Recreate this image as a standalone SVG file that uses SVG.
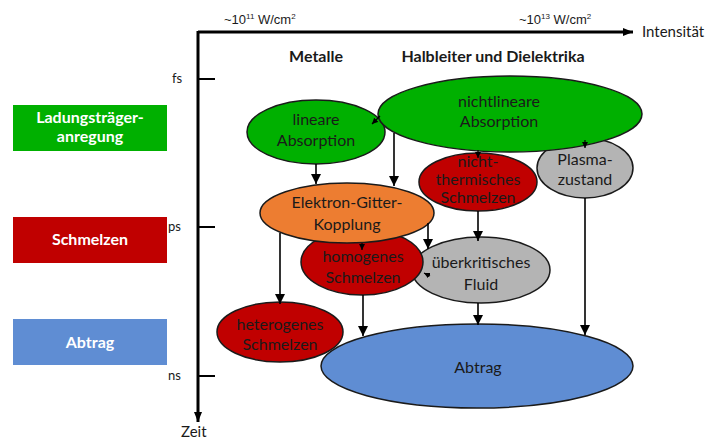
<svg xmlns="http://www.w3.org/2000/svg" width="728" height="441" viewBox="0 0 728 441">
<style>
.n{stroke:#1a1a1a;stroke-width:1.5}
.t{font-family:Lato,"Open Sans",sans-serif;font-size:16px;fill:#1a1a1a;text-anchor:middle}
.lb{font-family:Lato,"Open Sans",sans-serif;font-size:16px;font-weight:bold;fill:#fff;text-anchor:middle}
.ax{font-family:Lato,"Open Sans",sans-serif;font-size:15px;fill:#1a1a1a}
.w{font-family:"Liberation Sans",Arial,sans-serif;font-size:13px;fill:#1a1a1a}
.h{font-family:Lato,"Open Sans",sans-serif;font-size:16px;font-weight:bold;fill:#1a1a1a;text-anchor:middle}
.c{stroke:#000;stroke-width:1.6;fill:none;marker-end:url(#a)}
.cs{stroke:#000;stroke-width:1.2;fill:none;marker-end:url(#s)}
</style>
<defs>
<marker id="a" markerUnits="userSpaceOnUse" markerWidth="10" markerHeight="12" refX="10" refY="5" orient="auto"><path d="M0,0L10,5L0,10Z" fill="#000"/></marker>
<marker id="s" markerUnits="userSpaceOnUse" markerWidth="6" markerHeight="6" refX="6" refY="3" orient="auto"><path d="M0,0L6,3L0,6Z" fill="#000"/></marker>
<marker id="ax" markerUnits="userSpaceOnUse" markerWidth="10" markerHeight="10" refX="10" refY="4" orient="auto"><path d="M0,0L10,4L0,8Z" fill="#000"/></marker>
</defs>
<rect width="728" height="441" fill="#fff"/>
<g id="axes">
<path d="M198,32H633" stroke="#000" stroke-width="3" fill="none" marker-end="url(#ax)"/>
<path d="M198,31V422" stroke="#000" stroke-width="3" fill="none" marker-end="url(#ax)"/>
<path d="M198,79H215M198,227H215M198,376H215" stroke="#000" stroke-width="2"/>
<text class="ax" x="642" y="37">Intensität</text>
<text class="ax" x="181" y="437">Zeit</text>
<text class="ax" x="172" y="83" style="font-size:13px">fs</text>
<text class="ax" x="168" y="231" style="font-size:13px">ps</text>
<text class="ax" x="168" y="380" style="font-size:13px">ns</text>
<text class="w" x="224" y="24">~10<tspan font-size="8" dy="-5">11</tspan><tspan dy="5"> W/cm</tspan><tspan font-size="8" dy="-5">2</tspan></text>
<text class="w" x="519" y="24">~10<tspan font-size="8" dy="-5">13</tspan><tspan dy="5"> W/cm</tspan><tspan font-size="8" dy="-5">2</tspan></text>
<text class="h" x="316" y="62">Metalle</text>
<text class="h" x="493" y="62">Halbleiter und Dielektrika</text>
</g>
<g id="legend">
<g id="leg-ladung"><rect x="13" y="105" width="154" height="46" fill="#00b000"/><text class="lb" x="90" y="123">Ladungsträger-</text><text class="lb" x="90" y="142">anregung</text></g>
<g id="leg-schmelzen"><rect x="13" y="217" width="154" height="46" fill="#c00000"/><text class="lb" x="90" y="245">Schmelzen</text></g>
<g id="leg-abtrag"><rect x="13" y="319" width="154" height="46" fill="#5f8dd3"/><text class="lb" x="90" y="348">Abtrag</text></g>
</g>
<g id="heterogenes"><ellipse class="n" cx="280" cy="332" rx="63" ry="30" fill="#c00000"/><text class="t" x="280" y="330">heterogenes</text><text class="t" x="280" y="350">Schmelzen</text></g>
<g id="abtrag"><ellipse class="n" cx="477" cy="366" rx="156" ry="42" fill="#5f8dd3"/><text class="t" x="478" y="373">Abtrag</text></g>
<g id="ueberkritisch"><ellipse class="n" cx="481" cy="270" rx="69" ry="33" fill="#b4b4b4"/><text class="t" x="481" y="268">überkritisches</text><text class="t" x="481" y="290">Fluid</text></g>
<g id="homogenes"><ellipse class="n" cx="362" cy="262" rx="61" ry="33" fill="#c00000"/><text class="t" x="363" y="262">homogenes</text><text class="t" x="363" y="283">Schmelzen</text></g>
<g id="elektron"><ellipse class="n" cx="347" cy="213" rx="87" ry="30" fill="#ed7d31"/><text class="t" x="347" y="208">Elektron-Gitter-</text><text class="t" x="347" y="230">Kopplung</text></g>
<g id="nichtthermisch"><ellipse class="n" cx="478" cy="182" rx="59" ry="29" fill="#c00000"/><text class="t" x="478" y="167">nicht-</text><text class="t" x="478" y="185">thermisches</text><text class="t" x="478" y="203">Schmelzen</text></g>
<g id="plasma"><ellipse class="n" cx="585" cy="168" rx="48" ry="30" fill="#b4b4b4"/><text class="t" x="585" y="165">Plasma-</text><text class="t" x="585" y="185">zustand</text></g>
<g id="linear"><ellipse class="n" cx="316" cy="132" rx="69" ry="32" fill="#00b000"/><text class="t" x="316" y="125">lineare</text><text class="t" x="316" y="146">Absorption</text></g>
<g id="nichtlinear"><ellipse class="n" cx="510" cy="114" rx="132" ry="38" fill="#00b000"/><text class="t" x="499" y="107">nichtlineare</text><text class="t" x="499" y="127">Absorption</text></g>
<g id="connectors">
<path class="cs" d="M380,116L372,124"/>
<path class="c" d="M316,164V184"/>
<path class="c" d="M394,133V186"/>
<path class="cs" d="M478,150V158"/>
<path class="cs" d="M585,140V148"/>
<path class="c" d="M478,211V241"/>
<path class="c" d="M428,223V249"/>
<path class="cs" d="M362,243V250"/>
<path class="cs" d="M430,276L424,273"/>
<path class="c" d="M280,233V304"/>
<path class="c" d="M363,295V336"/>
<path class="c" d="M478,303V325"/>
<path class="c" d="M585,198V335"/>
</g>
</svg>
